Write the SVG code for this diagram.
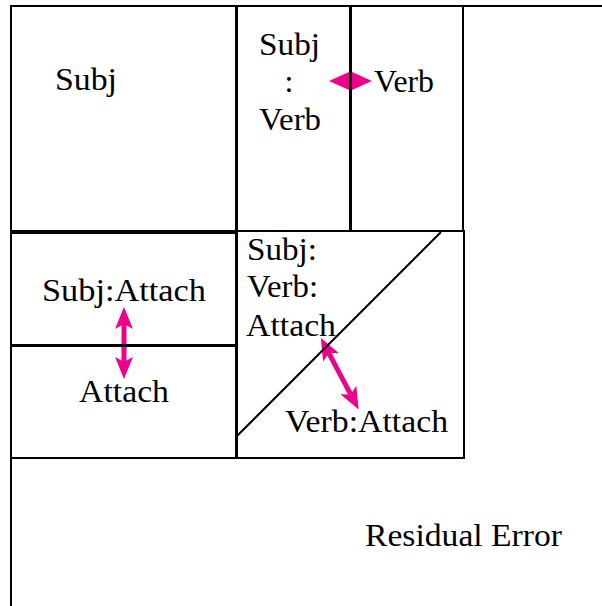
<svg xmlns="http://www.w3.org/2000/svg" width="602" height="606" viewBox="0 0 602 606">
<style>
.box{fill:none;stroke:#000;stroke-width:2}
.ln{fill:none;stroke:#000;stroke-width:2}
.t{font-family:'Liberation Serif','Times New Roman',serif;font-size:32px;fill:#000}
.arr{fill:none;stroke:#EC008C;stroke-width:5;marker-start:url(#h);marker-end:url(#h)}
.arr2{fill:none;stroke:#EC008C;stroke-width:5;marker-start:url(#h2);marker-end:url(#h2)}
</style>
<defs>
<marker id="h" viewBox="0 0 22 18" refX="5" refY="9" markerWidth="22" markerHeight="18" markerUnits="userSpaceOnUse" orient="auto-start-reverse">
<path d="M0,0 L22,9 L0,18 L5,9 Z" fill="#EC008C"/>
</marker>
<marker id="h2" viewBox="0 0 20 18" refX="1" refY="9" markerWidth="20" markerHeight="18" markerUnits="userSpaceOnUse" orient="auto-start-reverse">
<path d="M0,0 L20,9 L0,18 Z" fill="#EC008C"/>
</marker>
</defs>
<rect width="602" height="606" fill="#fff"/>
<g id="connectors">
<path class="arr2" d="M348,81 L353,81"/>
<path class="arr" d="M124,324 L124,362"/>
<path class="arr" d="M328.8,353.1 L350.7,394.4"/>
</g>
<g id="frame">
<path class="ln" d="M11,606 V6 H602"/>
</g>
<g id="subj">
<rect class="box" x="11" y="6" width="225" height="225"/>
<text class="t" x="55" y="90" textLength="62" lengthAdjust="spacingAndGlyphs">Subj</text>
</g>
<g id="subj-verb">
<rect class="box" x="237" y="6" width="113" height="225"/>
<text class="t" x="259" y="55" textLength="61" lengthAdjust="spacingAndGlyphs">Subj</text>
<text class="t" x="289" y="92" text-anchor="middle">:</text>
<text class="t" x="259" y="130" textLength="62" lengthAdjust="spacingAndGlyphs">Verb</text>
</g>
<g id="verb">
<rect class="box" x="351" y="6" width="112" height="225"/>
<text class="t" x="374" y="92" textLength="60" lengthAdjust="spacingAndGlyphs">Verb</text>
</g>
<g id="subj-attach">
<rect class="box" x="11" y="233" width="225" height="112"/>
<text class="t" x="42" y="301" textLength="164" lengthAdjust="spacingAndGlyphs">Subj:Attach</text>
</g>
<g id="attach">
<rect class="box" x="11" y="346" width="225" height="112"/>
<text class="t" x="79" y="402" textLength="90" lengthAdjust="spacingAndGlyphs">Attach</text>
</g>
<g id="three-way">
<rect class="box" x="237" y="231" width="227" height="227"/>
<path class="ln" d="M237,436 L441,232"/>
<text class="t" x="247" y="260" textLength="70" lengthAdjust="spacingAndGlyphs">Subj:</text>
<text class="t" x="247" y="297" textLength="71" lengthAdjust="spacingAndGlyphs">Verb:</text>
<text class="t" x="246" y="336" textLength="90" lengthAdjust="spacingAndGlyphs">Attach</text>
</g>
<g id="verb-attach">
<text class="t" x="285" y="432" textLength="163" lengthAdjust="spacingAndGlyphs">Verb:Attach</text>
</g>
<g id="residual">
<text class="t" x="365" y="546" textLength="197" lengthAdjust="spacingAndGlyphs">Residual Error</text>
</g>
</svg>
